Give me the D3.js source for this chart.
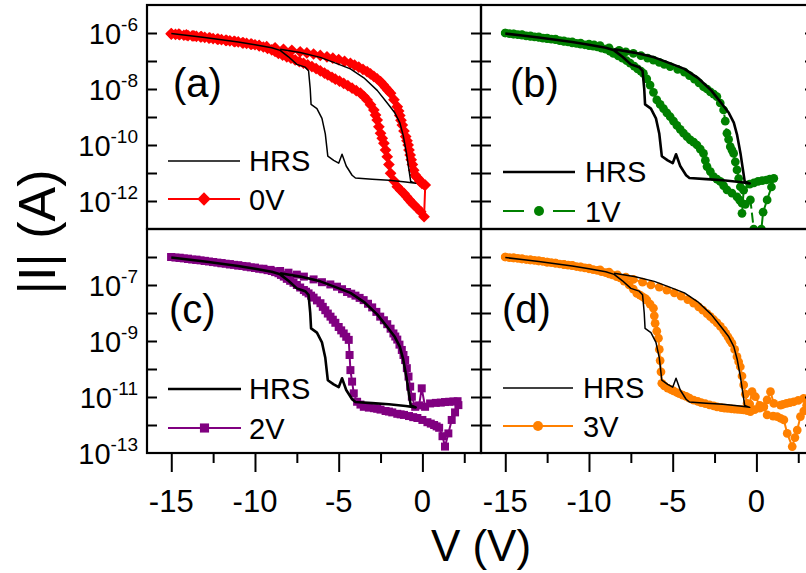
<!DOCTYPE html>
<html><head><meta charset="utf-8">
<script src="https://cdn.jsdelivr.net/npm/d3@7"></script>
<style>
body{margin:0;background:#fff}
svg{display:block}
text{font-family:"Liberation Sans",Arial,sans-serif;fill:#000}
</style>
</head><body>
<svg id="chart" width="806" height="573"></svg>
<script>
// ---- data: [V (volts), log10 |I| (A)] ----
const hrs = [[-15,-6.02],[-14,-6.09],[-13,-6.16],[-12,-6.24],[-11,-6.32],[-10,-6.42],[-9,-6.53],[-8.5,-6.62],[-8,-6.85],[-7.5,-7.12],[-7.0,-7.22],[-6.8,-7.35],[-6.7,-8.0],[-6.65,-8.55],[-6.3,-8.7],[-6.0,-9.05],[-5.8,-9.6],[-5.65,-10.4],[-5.3,-10.55],[-5.0,-10.65],[-4.8,-10.33],[-4.55,-10.75],[-4.2,-11.08],[-4.0,-11.18],[-3.0,-11.22],[-2.0,-11.26],[-1.0,-11.32],[-0.4,-11.37],[-0.7,-11.3],[-0.8,-10.9],[-0.95,-10.3],[-1.15,-9.65],[-1.35,-9.2],[-1.65,-8.85],[-2.1,-8.5],[-2.7,-8.05],[-3.5,-7.6],[-4.3,-7.28],[-5.3,-7.05],[-6.1,-6.87],[-7.3,-6.7],[-8.5,-6.58]];

const sweep0V = [[-15,-6.04],[-14.75,-6.05],[-14.5,-6.06],[-14.25,-6.08],[-14,-6.09],[-13.75,-6.1],[-13.5,-6.12],[-13.25,-6.14],[-13,-6.16],[-12.75,-6.18],[-12.5,-6.2],[-12.25,-6.22],[-12,-6.24],[-11.75,-6.26],[-11.5,-6.28],[-11.25,-6.3],[-11,-6.32],[-10.75,-6.35],[-10.5,-6.37],[-10.25,-6.4],[-10,-6.42],[-9.75,-6.46],[-9.5,-6.5],[-9.25,-6.55],[-9,-6.6],[-8.8,-6.66],[-8.6,-6.73],[-8.35,-6.79],[-8.1,-6.85],[-7.85,-6.9],[-7.6,-6.96],[-7.35,-7.02],[-7.1,-7.08],[-6.85,-7.14],[-6.6,-7.2],[-6.35,-7.27],[-6.1,-7.35],[-5.85,-7.43],[-5.65,-7.5],[-5.4,-7.58],[-5.2,-7.65],[-4.95,-7.72],[-4.7,-7.8],[-4.45,-7.88],[-4.2,-7.97],[-3.95,-8.06],[-3.7,-8.15],[-3.5,-8.26],[-3.3,-8.39],[-3.1,-8.56],[-2.9,-8.75],[-2.8,-8.93],[-2.7,-9.11],[-2.6,-9.35],[-2.5,-9.58],[-2.4,-9.76],[-2.3,-9.94],[-2.2,-10.18],[-2.1,-10.42],[-2.0,-10.7],[-1.9,-11.01],[-1.7,-11.28],[-1.5,-11.49],[-1.3,-11.62],[-1.1,-11.73],[-0.95,-11.84],[-0.8,-11.95],[-0.65,-12.05],[-0.5,-12.14],[-0.3,-12.26],[-0.1,-12.38],[0.1,-12.56],[0.17,-11.43],[0.07,-11.4],[-0.03,-11.37],[-0.15,-11.3],[-0.25,-11.2],[-0.35,-11.14],[-0.43,-11.07],[-0.52,-10.9],[-0.6,-10.7],[-0.67,-10.53],[-0.73,-10.36],[-0.8,-10.18],[-0.85,-10.0],[-0.92,-9.85],[-1.0,-9.7],[-1.1,-9.5],[-1.2,-9.29],[-1.28,-9.12],[-1.35,-8.95],[-1.42,-8.79],[-1.5,-8.63],[-1.7,-8.38],[-1.9,-8.15],[-2.05,-8.05],[-2.2,-7.95],[-2.35,-7.84],[-2.5,-7.74],[-2.7,-7.64],[-2.9,-7.55],[-3.1,-7.46],[-3.3,-7.38],[-3.55,-7.3],[-3.8,-7.22],[-4.05,-7.15],[-4.3,-7.08],[-4.65,-7.01],[-5.0,-6.95],[-5.35,-6.9],[-5.7,-6.85],[-6.1,-6.8],[-6.5,-6.75],[-6.9,-6.71],[-7.3,-6.67],[-7.8,-6.62],[-8.3,-6.58],[-8.8,-6.53],[-9.3,-6.49],[-9.75,-6.44],[-10.2,-6.4],[-10.7,-6.35],[-11.2,-6.31],[-11.7,-6.26],[-12.2,-6.22],[-12.7,-6.17],[-13.2,-6.13],[-13.65,-6.1],[-14.1,-6.07],[-14.55,-6.04],[-15,-6.02]];

const sweep1V = [[-15,-6.0],[-14.75,-6.02],[-14.5,-6.04],[-14.25,-6.06],[-14,-6.08],[-13.75,-6.1],[-13.5,-6.12],[-13.25,-6.14],[-13,-6.16],[-12.75,-6.18],[-12.5,-6.2],[-12.25,-6.22],[-12,-6.24],[-11.75,-6.27],[-11.5,-6.3],[-11.25,-6.32],[-11,-6.35],[-10.75,-6.37],[-10.5,-6.4],[-10.25,-6.42],[-10,-6.45],[-9.75,-6.47],[-9.5,-6.5],[-9.25,-6.54],[-9,-6.58],[-8.75,-6.65],[-8.54,-6.73],[-8.25,-6.82],[-8,-6.9],[-7.75,-6.99],[-7.54,-7.08],[-7.3,-7.18],[-7.1,-7.28],[-6.9,-7.36],[-6.75,-7.44],[-6.55,-7.64],[-6.35,-7.86],[-6.15,-8.12],[-5.95,-8.39],[-5.75,-8.55],[-5.55,-8.7],[-5.35,-8.85],[-5.15,-8.99],[-4.95,-9.15],[-4.75,-9.3],[-4.55,-9.44],[-4.35,-9.58],[-4.15,-9.7],[-3.95,-9.82],[-3.75,-9.9],[-3.55,-10.0],[-3.35,-10.15],[-3.16,-10.3],[-3.05,-10.55],[-2.95,-10.77],[-2.75,-10.95],[-2.56,-11.13],[-2.36,-11.22],[-2.16,-11.3],[-1.96,-11.45],[-1.76,-11.6],[-1.46,-11.72],[-1.16,-11.85],[-1.0,-11.97],[-0.86,-12.08],[-0.66,-12.12],[-0.36,-11.96],[-0.16,-13.0],[0.3,-13.0],[0.4,-12.4],[0.64,-11.96],[0.9,-11.5],[1.04,-11.19],[0.8,-11.22],[0.6,-11.25],[0.35,-11.27],[0.1,-11.3],[-0.15,-11.35],[-0.4,-11.4],[-0.76,-11.61],[-0.86,-12.44],[-0.96,-11.49],[-1.06,-11.2],[-1.16,-10.89],[-1.26,-10.6],[-1.36,-10.3],[-1.46,-10.18],[-1.56,-10.06],[-1.66,-9.8],[-1.76,-9.58],[-1.86,-9.15],[-1.96,-8.75],[-2.16,-8.5],[-2.36,-8.27],[-2.55,-8.18],[-2.75,-8.1],[-2.95,-8.0],[-3.16,-7.92],[-3.43,-7.78],[-3.7,-7.65],[-4.0,-7.52],[-4.3,-7.4],[-4.7,-7.3],[-5.15,-7.2],[-5.5,-7.12],[-5.8,-7.05],[-6.15,-6.97],[-6.5,-6.9],[-6.9,-6.81],[-7.35,-6.73],[-7.8,-6.67],[-8.2,-6.62],[-8.8,-6.53],[-9.34,-6.45],[-9.7,-6.42],[-10,-6.4],[-10.5,-6.36],[-11,-6.32],[-11.5,-6.28],[-12,-6.22],[-12.5,-6.18],[-13,-6.14],[-13.5,-6.1],[-14,-6.06],[-14.5,-6.03],[-15,-6.0]];

const sweep2V = [[-15,-6.0],[-14.75,-6.02],[-14.5,-6.03],[-14.25,-6.05],[-14,-6.07],[-13.75,-6.09],[-13.5,-6.1],[-13.25,-6.12],[-13,-6.14],[-12.75,-6.16],[-12.5,-6.18],[-12.25,-6.2],[-12,-6.22],[-11.75,-6.24],[-11.5,-6.26],[-11.25,-6.28],[-11,-6.3],[-10.75,-6.32],[-10.5,-6.34],[-10.25,-6.37],[-10,-6.39],[-9.75,-6.42],[-9.5,-6.44],[-9.25,-6.47],[-9,-6.5],[-8.8,-6.54],[-8.6,-6.58],[-8.45,-6.64],[-8.28,-6.7],[-8.1,-6.78],[-7.9,-6.85],[-7.7,-6.92],[-7.5,-7.0],[-7.3,-7.09],[-7.08,-7.18],[-6.95,-7.24],[-6.8,-7.3],[-6.65,-7.38],[-6.5,-7.45],[-6.3,-7.55],[-6.09,-7.65],[-5.95,-7.78],[-5.8,-7.9],[-5.65,-8.02],[-5.49,-8.13],[-5.35,-8.24],[-5.2,-8.35],[-5.0,-8.5],[-4.85,-8.62],[-4.7,-8.73],[-4.55,-8.85],[-4.4,-8.96],[-4.35,-9.5],[-4.3,-10.04],[-4.2,-10.45],[-4.1,-10.87],[-3.9,-11.17],[-3.7,-11.27],[-3.5,-11.35],[-3.2,-11.38],[-2.9,-11.4],[-2.7,-11.42],[-2.5,-11.45],[-2.2,-11.5],[-2.0,-11.52],[-1.8,-11.55],[-1.5,-11.6],[-1.3,-11.62],[-1.1,-11.64],[-0.8,-11.68],[-0.55,-11.72],[-0.3,-11.75],[0.0,-11.82],[0.3,-11.9],[0.5,-11.95],[0.7,-12.0],[0.85,-12.05],[1.0,-12.1],[1.2,-12.4],[1.35,-12.77],[1.55,-12.3],[1.75,-11.82],[1.95,-11.55],[2.15,-11.29],[2.1,-11.15],[1.85,-11.16],[1.6,-11.17],[1.35,-11.18],[1.1,-11.2],[0.8,-11.21],[0.46,-11.23],[0.16,-11.35],[-0.04,-10.69],[-0.2,-11.3],[-0.43,-11.35],[-0.63,-10.99],[-0.73,-10.63],[-0.83,-10.27],[-0.93,-9.97],[-1.03,-9.68],[-1.13,-9.5],[-1.23,-9.32],[-1.37,-9.13],[-1.5,-8.95],[-1.62,-8.84],[-1.73,-8.73],[-1.9,-8.56],[-2.1,-8.4],[-2.3,-8.26],[-2.52,-8.13],[-2.75,-7.96],[-3.0,-7.8],[-3.25,-7.67],[-3.51,-7.54],[-3.75,-7.46],[-4.0,-7.38],[-4.25,-7.31],[-4.5,-7.25],[-4.8,-7.15],[-5.1,-7.06],[-5.5,-6.98],[-6.0,-6.9],[-6.5,-6.8],[-7.08,-6.7],[-7.5,-6.63],[-8.0,-6.56],[-8.5,-6.5],[-9.07,-6.46],[-9.5,-6.42],[-10,-6.38],[-10.5,-6.34],[-11,-6.3],[-11.5,-6.26],[-12,-6.22],[-12.5,-6.18],[-13,-6.14],[-13.5,-6.1],[-14,-6.06],[-14.5,-6.03],[-15,-6.0]];

const sweep3V = [[-15,-6.0],[-14.75,-6.02],[-14.5,-6.03],[-14.25,-6.05],[-14,-6.07],[-13.75,-6.09],[-13.5,-6.1],[-13.25,-6.12],[-13,-6.14],[-12.75,-6.16],[-12.5,-6.18],[-12.25,-6.2],[-12,-6.22],[-11.75,-6.25],[-11.5,-6.27],[-11.25,-6.29],[-11,-6.31],[-10.75,-6.34],[-10.5,-6.36],[-10.25,-6.39],[-10,-6.42],[-9.75,-6.45],[-9.5,-6.48],[-9.25,-6.52],[-9,-6.56],[-8.8,-6.6],[-8.6,-6.64],[-8.35,-6.7],[-8.14,-6.75],[-7.9,-6.86],[-7.6,-7.0],[-7.35,-7.15],[-7.14,-7.3],[-6.95,-7.36],[-6.8,-7.42],[-6.65,-7.48],[-6.54,-7.54],[-6.35,-7.68],[-6.15,-7.83],[-6.1,-8.1],[-6.05,-8.37],[-5.95,-8.65],[-5.85,-8.9],[-5.8,-9.3],[-5.75,-9.7],[-5.7,-10.1],[-5.65,-10.51],[-5.5,-10.6],[-5.3,-10.68],[-5.1,-10.74],[-4.95,-10.78],[-4.75,-10.84],[-4.6,-10.88],[-4.4,-10.93],[-4.2,-10.98],[-4.0,-11.04],[-3.75,-11.11],[-3.5,-11.16],[-3.3,-11.2],[-3.05,-11.24],[-2.8,-11.28],[-2.55,-11.32],[-2.35,-11.35],[-2.1,-11.38],[-1.9,-11.4],[-1.7,-11.41],[-1.5,-11.42],[-1.3,-11.43],[-1.1,-11.44],[-0.9,-11.45],[-0.76,-11.46],[-0.55,-11.49],[-0.36,-11.52],[-0.1,-11.45],[0.2,-11.4],[0.44,-11.35],[0.64,-11.64],[1.0,-11.68],[1.24,-11.7],[1.44,-11.76],[1.64,-11.82],[1.84,-12.3],[2.14,-12.77],[2.3,-12.45],[2.44,-12.18],[2.63,-11.7],[2.83,-11.5],[3.0,-11.3],[2.83,-11.05],[2.5,-11.12],[2.23,-11.17],[2.0,-11.2],[1.8,-11.23],[1.6,-11.26],[1.44,-11.29],[1.04,-11.23],[0.84,-10.81],[0.64,-11.1],[0.44,-11.35],[0.2,-11.3],[-0.06,-10.99],[-0.26,-10.81],[-0.4,-11.25],[-0.56,-11.23],[-0.66,-10.9],[-0.76,-10.57],[-0.86,-10.25],[-0.96,-9.92],[-1.06,-9.74],[-1.16,-9.56],[-1.3,-9.3],[-1.46,-9.08],[-1.58,-8.97],[-1.7,-8.85],[-1.83,-8.73],[-1.96,-8.61],[-2.15,-8.48],[-2.35,-8.35],[-2.55,-8.24],[-2.75,-8.13],[-2.95,-8.02],[-3.2,-7.9],[-3.45,-7.78],[-3.75,-7.65],[-4.1,-7.52],[-4.5,-7.4],[-4.9,-7.28],[-5.35,-7.18],[-5.8,-7.08],[-6.3,-7.0],[-6.8,-6.9],[-7.35,-6.8],[-7.8,-6.72],[-8.3,-6.64],[-8.8,-6.54],[-9.34,-6.46],[-10,-6.4],[-10.5,-6.35],[-11,-6.3],[-11.5,-6.26],[-12,-6.22],[-12.5,-6.18],[-13,-6.14],[-13.5,-6.1],[-14,-6.07],[-14.5,-6.03],[-15,-6.0]];

const seriesNames = ["0V","1V","2V","3V"];
const panelLabels = ["(a)","(b)","(c)","(d)"];
const seriesColors = ["#ff0000","#008000","#800080","#ff8000"];
const xMajorTicks = [-15,-10,-5,0];
const xMinorTicks = [-12.5,-7.5,-2.5,2.5];
const yTopLabels = [-6,-8,-10,-12];
const yBottomLabels = [-7,-9,-11,-13];
const yDecades = [-12,-11,-10,-9,-8,-7,-6];

// ---- layout ----
const svg = d3.select("#chart");
const colX = [[147,481],[481,815]];
const rowY = [[5,229],[229,453]];
const xDomain = [-16.45,3.5];
const yDomain = [1e-13,1e-5];

const diamond = {draw(ctx,size){const r=Math.sqrt(size)/2*1.25;ctx.moveTo(0,-r);ctx.lineTo(r,0);ctx.lineTo(0,r);ctx.lineTo(-r,0);ctx.closePath();}};

const panels = [
  {col:0,row:0,data:sweep0V,sym:diamond,size:88,hrsW:1.5,dash:null,
   leg:{x0:168,x1:240,y1:161,y2:199,tx:249},lab:{x:173,y:97}},
  {col:1,row:0,data:sweep1V,sym:d3.symbolCircle,size:60,hrsW:2.6,dash:"10,4",
   leg:{x0:503,x1:575,y1:172,y2:211,tx:585},lab:{x:510,y:97}},
  {col:0,row:1,data:sweep2V,sym:d3.symbolSquare,size:64,hrsW:2.6,dash:null,
   leg:{x0:168,x1:241,y1:389,y2:428,tx:249},lab:{x:169,y:323}},
  {col:1,row:1,data:sweep3V,sym:d3.symbolCircle,size:60,hrsW:1.5,dash:null,
   leg:{x0:503,x1:573,y1:388,y2:426,tx:583},lab:{x:502,y:323}}
];

const defs = svg.append("defs");

panels.forEach((p,i)=>{
  const [xl,xr] = colX[p.col], [yt,yb] = rowY[p.row];
  const x = d3.scaleLinear().domain(xDomain).range([xl,xr]);
  const y = d3.scaleLog().domain(yDomain).range([yb,yt]);
  const color = seriesColors[i];
  const g = svg.append("g");
  defs.append("clipPath").attr("id","clip"+i).append("rect")
    .attr("x",xl).attr("y",yt).attr("width",xr-xl).attr("height",yb-yt);
  const plot = g.append("g").attr("clip-path",`url(#clip${i})`);
  const line = d3.line().x(d=>x(d[0])).y(d=>y(Math.pow(10,d[1])));

  plot.append("path").attr("d",line(p.data)).attr("fill","none")
    .attr("stroke",color).attr("stroke-width",2)
    .attr("stroke-dasharray",p.dash);
  plot.selectAll(".m").data(p.data).enter().append("path")
    .attr("d",d3.symbol().type(p.sym).size(p.size))
    .attr("transform",d=>`translate(${x(d[0])},${y(Math.pow(10,d[1]))})`)
    .attr("fill",color);
  plot.append("path").attr("d",line(hrs)).attr("fill","none")
    .attr("stroke","#000").attr("stroke-width",p.hrsW).attr("stroke-linejoin","round");

  g.append("rect").attr("x",xl).attr("y",yt).attr("width",xr-xl).attr("height",yb-yt)
    .attr("fill","none").attr("stroke","#000").attr("stroke-width",2.2);

  const yl = g.append("g").attr("transform",`translate(${xl},0)`)
    .call(d3.axisLeft(y).tickValues(yDecades.map(e=>Math.pow(10,e))).tickSize(-10).tickFormat(""));
  const yr = g.append("g").attr("transform",`translate(${xr},0)`)
    .call(d3.axisRight(y).tickValues(yDecades.map(e=>Math.pow(10,e))).tickSize(-10).tickFormat(""));
  [yl,yr].forEach(a=>{a.select(".domain").remove();a.selectAll("line").attr("stroke","#000").attr("stroke-width",2);});

  if(p.col===0){
    const labs = p.row===0 ? yTopLabels : yBottomLabels;
    labs.forEach(e=>{
      const t = g.append("text").attr("x",138).attr("y",y(Math.pow(10,e))+11)
        .attr("text-anchor","end").attr("font-size",29);
      t.append("tspan").text("10");
      t.append("tspan").attr("dy",-13).attr("font-size",19).text("-"+Math.abs(e));
    });
  }
  if(p.row===1){
    const xa = g.append("g").attr("transform",`translate(0,${yb})`)
      .call(d3.axisBottom(x).tickValues(xMajorTicks).tickSize(19).tickFormat(""));
    const xm = g.append("g").attr("transform",`translate(0,${yb})`)
      .call(d3.axisBottom(x).tickValues(xMinorTicks).tickSize(10).tickFormat(""));
    [xa,xm].forEach(a=>{a.select(".domain").remove();a.selectAll("line").attr("stroke","#000").attr("stroke-width",2);});
    xMajorTicks.forEach(v=>{
      g.append("text").attr("x",x(v)).attr("y",512).attr("text-anchor","middle")
        .attr("font-size",31).text(v<0?"-"+Math.abs(v):String(v));
    });
  }

  g.append("text").attr("x",p.lab.x).attr("y",p.lab.y).attr("font-size",40).text(panelLabels[i]);

  const L = p.leg;
  g.append("line").attr("x1",L.x0).attr("x2",L.x1).attr("y1",L.y1).attr("y2",L.y1)
    .attr("stroke","#000").attr("stroke-width",p.hrsW);
  g.append("text").attr("x",L.tx).attr("y",L.y1+10).attr("font-size",29).text("HRS");
  const mid = (L.x0+L.x1)/2;
  if(p.dash){
    g.append("line").attr("x1",L.x0).attr("x2",L.x0+21).attr("y1",L.y2).attr("y2",L.y2)
      .attr("stroke",color).attr("stroke-width",2);
    g.append("line").attr("x1",L.x1-22).attr("x2",L.x1).attr("y1",L.y2).attr("y2",L.y2)
      .attr("stroke",color).attr("stroke-width",2);
  } else {
    g.append("line").attr("x1",L.x0).attr("x2",L.x1).attr("y1",L.y2).attr("y2",L.y2)
      .attr("stroke",color).attr("stroke-width",2);
  }
  g.append("path").attr("d",d3.symbol().type(p.sym).size(p.size*1.3))
    .attr("transform",`translate(${mid},${L.y2})`).attr("fill",color);
  g.append("text").attr("x",L.tx).attr("y",L.y2+11).attr("font-size",29).text(seriesNames[i]);
});

svg.append("text").attr("transform","translate(55,232) rotate(-90)")
  .attr("text-anchor","middle").attr("font-size",52).text("|I| (A)");
svg.append("text").attr("x",481).attr("y",561).attr("text-anchor","middle")
  .attr("font-size",44).text("V (V)");
</script>
</body></html>
